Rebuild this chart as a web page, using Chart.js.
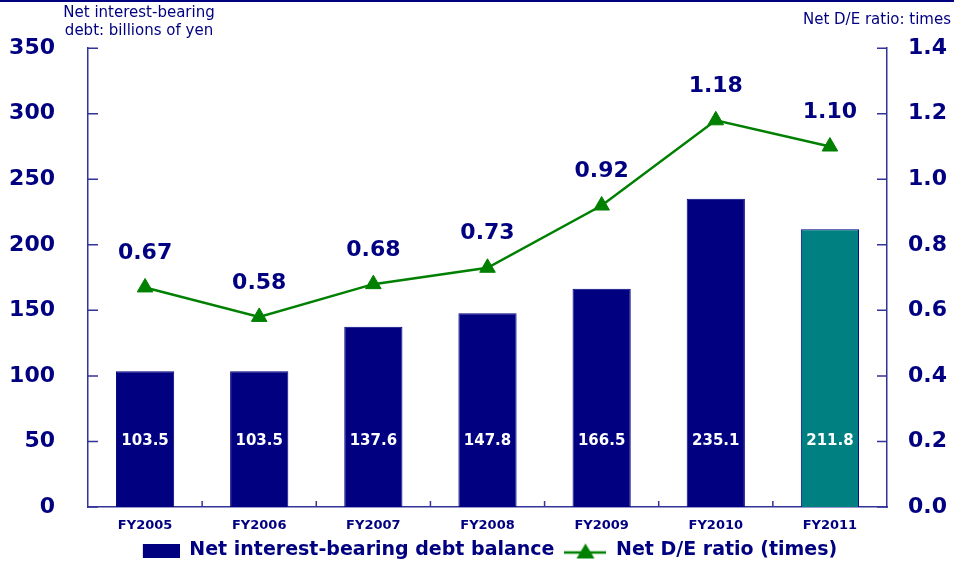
<!DOCTYPE html>
<html>
<head>
<meta charset="utf-8">
<script src="https://cdn.jsdelivr.net/npm/chart.js@4.4.0/dist/chart.umd.min.js"></script>
<style>
  html, body { margin: 0; padding: 0; background: #fff; overflow: hidden; }
  #wrap { width: 954px; border-top: 2px solid #000080; }
  canvas { display: block; }
</style>
</head>
<body>
<div id="wrap"><canvas id="chart" width="954" height="568"></canvas></div>
<script>
const categories = ['FY2005', 'FY2006', 'FY2007', 'FY2008', 'FY2009', 'FY2010', 'FY2011'];
const debtBalance = [103.5, 103.5, 137.6, 147.8, 166.5, 235.1, 211.8];
const deRatio = [0.67, 0.58, 0.68, 0.73, 0.92, 1.18, 1.10];
const barColors = ['#000080', '#000080', '#000080', '#000080', '#000080', '#000080', '#008080'];

const NAVY = '#000080';
const AXIS = '#333399';
const FONT = '"DejaVu Sans", Verdana, sans-serif';

// legend swatches
function swatchBar() {
  const c = document.createElement('canvas');
  c.width = 42; c.height = 14;
  const g = c.getContext('2d');
  g.fillStyle = NAVY;
  g.fillRect(5, 0, 37, 14);
  return c;
}
function swatchLine() {
  const c = document.createElement('canvas');
  c.width = 42; c.height = 18;
  const g = c.getContext('2d');
  g.strokeStyle = '#008000'; g.lineWidth = 2.5;
  g.beginPath(); g.moveTo(0, 11); g.lineTo(42, 11); g.stroke();
  g.fillStyle = '#008000';
  g.beginPath(); g.moveTo(21, 2); g.lineTo(30, 17); g.lineTo(12, 17); g.closePath(); g.fill();
  return c;
}

// axis titles, inward tick marks and value labels
const extras = {
  id: 'extras',
  afterDraw(chart) {
    const ctx = chart.ctx;
    const { left, right, top, bottom } = chart.chartArea;
    const yL = chart.scales.y, yR = chart.scales.y1, x = chart.scales.x;
    ctx.save();
    ctx.strokeStyle = AXIS; ctx.lineWidth = 1.5;
    ctx.beginPath();
    yL.ticks.forEach((t, i) => { const p = yL.getPixelForTick(i); ctx.moveTo(left, p); ctx.lineTo(left + 10, p); });
    yR.ticks.forEach((t, i) => { const p = yR.getPixelForTick(i); ctx.moveTo(right, p); ctx.lineTo(right - 10, p); });
    for (let i = 1; i < categories.length; i++) {
      const p = (x.getPixelForValue(i - 1) + x.getPixelForValue(i)) / 2;
      ctx.moveTo(p, bottom); ctx.lineTo(p, bottom - 6);
    }
    ctx.stroke();

    // axis titles
    ctx.fillStyle = NAVY;
    ctx.font = '15px ' + FONT;
    ctx.textAlign = 'center'; ctx.textBaseline = 'middle';
    ctx.fillText('Net interest-bearing', 139, 11);
    ctx.fillText('debt: billions of yen', 139, 29);
    ctx.textAlign = 'right';
    ctx.fillText('Net D/E ratio: times', 951, 18);

    // bar labels
    ctx.fillStyle = '#ffffff';
    ctx.font = 'bold 15px ' + FONT;
    ctx.textAlign = 'center';
    const barMeta = chart.getDatasetMeta(0);
    barMeta.data.forEach((bar, i) => {
      ctx.fillText(debtBalance[i].toFixed(1), bar.x, yL.getPixelForValue(50));
    });

    // ratio labels
    ctx.fillStyle = NAVY;
    ctx.font = 'bold 22px ' + FONT;
    const lineMeta = chart.getDatasetMeta(1);
    lineMeta.data.forEach((pt, i) => {
      ctx.fillText(deRatio[i].toFixed(2), pt.x, pt.y - 34);
    });
    ctx.restore();
  }
};

new Chart(document.getElementById('chart'), {
  data: {
    labels: categories,
    datasets: [
      {
        type: 'bar',
        label: 'Net interest-bearing debt balance',
        data: debtBalance,
        backgroundColor: barColors,
        borderColor: NAVY,
        borderWidth: 1,
        categoryPercentage: 1,
        barPercentage: 0.51,
        yAxisID: 'y',
        order: 2
      },
      {
        type: 'line',
        label: 'Net D/E ratio (times)',
        data: deRatio,
        borderColor: '#008000',
        backgroundColor: '#008000',
        borderWidth: 2.5,
        pointStyle: 'triangle',
        pointRadius: 9,
        pointHoverRadius: 9,
        pointBorderWidth: 1,
        tension: 0,
        yAxisID: 'y1',
        order: 1
      }
    ]
  },
  options: {
    responsive: false,
    animation: false,
    layout: { padding: { top: 44, bottom: 0 } },
    plugins: {
      tooltip: { enabled: false },
      legend: {
        position: 'bottom',
        fullSize: false,
        labels: {
          color: NAVY,
          font: { family: FONT, size: 19, weight: 'bold', lineHeight: 1 },
          usePointStyle: true,
          pointStyleWidth: 42,
          padding: 10,
          generateLabels(chart) {
            return [
              { text: 'Net interest-bearing debt balance', pointStyle: swatchBar(), datasetIndex: 0, fontColor: NAVY, lineWidth: 0 },
              { text: 'Net D/E ratio (times)', pointStyle: swatchLine(), datasetIndex: 1, fontColor: NAVY, lineWidth: 0 }
            ];
          }
        }
      }
    },
    scales: {
      x: {
        grid: { display: false, drawTicks: false },
        border: { display: true, color: AXIS, width: 1.5 },
        ticks: { color: NAVY, font: { family: FONT, size: 13, weight: 'bold' }, padding: 11 },
        afterFit(s) { s.height = 24; }
      },
      y: {
        position: 'left',
        min: 0, max: 350,
        grid: { display: false, drawTicks: false },
        border: { display: true, color: AXIS, width: 1.5 },
        ticks: { stepSize: 50, color: NAVY, font: { family: FONT, size: 22, weight: 'bold' }, padding: 33 },
        afterFit(s) { s.width = 88; }
      },
      y1: {
        position: 'right',
        min: 0, max: 1.4,
        grid: { display: false, drawTicks: false },
        border: { display: true, color: AXIS, width: 1.5 },
        ticks: {
          stepSize: 0.2, color: NAVY, font: { family: FONT, size: 22, weight: 'bold' }, padding: 21,
          callback: v => v.toFixed(1)
        },
        afterFit(s) { s.width = 67; }
      }
    }
  },
  plugins: [extras]
});
</script>
</body>
</html>
